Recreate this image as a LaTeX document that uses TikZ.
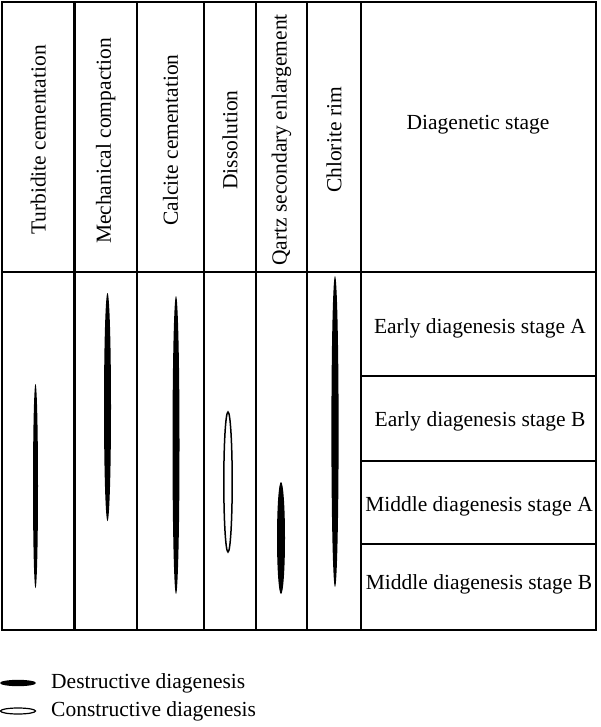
\documentclass[tikz,border=0pt]{standalone}
\usepackage{fontspec}
\setmainfont{Liberation Serif}
\begin{document}
\begin{tikzpicture}[x=1pt,y=-1pt,
  grid/.style={line width=2.2pt},
  lbl/.style={inner sep=0pt,font=\fontsize{21.5}{24}\selectfont},
  hdr/.style={lbl,rotate=90},
  destr/.style={fill=black,draw=none},
  constr/.style={draw=black,line width=1.5pt,fill=white}]
\useasboundingbox (0,0) rectangle (600,727);
% table frame
\draw[grid] (2,2) rectangle (596,630);
\draw[grid] (2,272) -- (596,272);
\foreach \x in {74.5,137,204,256,307,361}
  \draw[grid] (\x,2) -- (\x,630);
\foreach \y in {376,461,544}
  \draw[grid] (361,\y) -- (596,\y);
% headers
\node[hdr] (h1) at (38.2,140) {Turbidite cementation};
\node[hdr] (h2) at (105.8,141) {Mechanical compaction};
\node[hdr] (h3) at (170.5,140) {Calcite cementation};
\node[hdr] (h4) at (230,140) {Dissolution};
\node[hdr] (h5) at (281.5,140) {Qartz secondary enlargement};
\node[hdr] (h6) at (334,140) {Chlorite rim};
\node[lbl] (hs) at (478,125) {Diagenetic stage};
% stage labels
\node[lbl] (s1) at (480,328) {Early diagenesis stage A};
\node[lbl] (s2) at (480,421) {Early diagenesis stage B};
\node[lbl] (s3) at (479,506) {Middle diagenesis stage A};
\node[lbl] (s4) at (479,584) {Middle diagenesis stage B};
% range ellipses
\path[destr] (35.5,486) ellipse [x radius=2.5, y radius=102];
\path[destr] (107.5,407) ellipse [x radius=3.5, y radius=114];
\path[destr] (176,445) ellipse [x radius=3.5, y radius=149];
\draw[constr] (228,482) ellipse [x radius=4.2, y radius=70];
\path[destr] (281,538) ellipse [x radius=4, y radius=56];
\path[destr] (335,431.5) ellipse [x radius=3.6, y radius=155.5];
% legend
\path[destr] (18,683) ellipse [x radius=18, y radius=3.2];
\node[lbl,anchor=west] (l1) at (51,683) {Destructive diagenesis};
\draw[constr,line width=1.2pt] (18,711) ellipse [x radius=17.5, y radius=3];
\node[lbl,anchor=west] (l2) at (51,711) {Constructive diagenesis};
\end{tikzpicture}
\end{document}
